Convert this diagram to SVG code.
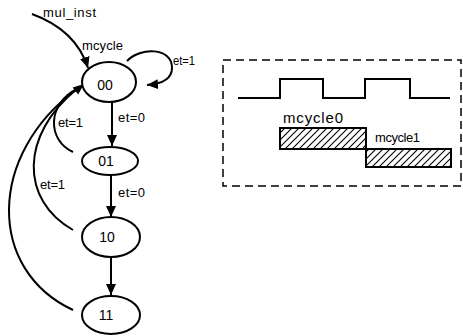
<svg xmlns="http://www.w3.org/2000/svg" width="463" height="336" viewBox="0 0 463 336">
<style>
  .lbl { font-family: "Liberation Sans", Arial, sans-serif; font-size: 13px; fill: #000; }
  .big { font-size: 15px; }
  .st { font-family: "Liberation Sans", Arial, sans-serif; font-size: 14px; fill: #000; text-anchor: middle; }
  .node { fill: #fff; stroke: #000; stroke-width: 2; }
  .edge { fill: none; stroke: #000; stroke-width: 2; }
  .arr { marker-end: url(#ah); }
</style>
<defs>
  <marker id="ah" markerUnits="userSpaceOnUse" markerWidth="12" markerHeight="10" refX="11" refY="5" orient="auto">
    <path d="M0,0 L11,5 L0,10 z" fill="#000"/>
  </marker>
  <pattern id="hatch" patternUnits="userSpaceOnUse" width="7" height="7">
    <path d="M-1,1 L1,-1 M0,7 L7,0 M6,8 L8,6" stroke="#000" stroke-width="1.1"/>
  </pattern>
</defs>
<rect width="463" height="336" fill="#fff"/>

<g id="connectors">
  <path class="edge arr" d="M32,14 Q76,30 88,68"/>
  <path class="edge arr" d="M127,61 C140,47 172,47 172,68 C172,80 160,84 147,85"/>
  <path class="edge arr" d="M112,102 L112,146"/>
  <path class="edge arr" d="M111,175 L111,217"/>
  <path class="edge arr" d="M111,257 L111,295"/>
  <path class="edge" d="M73,152 C47,140 47,104 77,89"/>
  <path class="edge" d="M73,230 C20,200 20,135 77,89"/>
  <path class="edge" d="M73,310 C-13,270 -13,155 77,89"/>
  <polygon points="84,84 78.2,94.4 72.6,87.4" fill="#000"/>
  <text class="lbl" x="43" y="17" textLength="53" lengthAdjust="spacing">mul_inst</text>
  <text class="lbl" x="82" y="50" textLength="41" lengthAdjust="spacing">mcycle</text>
  <text class="lbl" x="173" y="65" textLength="22" lengthAdjust="spacingAndGlyphs">et=1</text>
  <text class="lbl" x="118" y="122" textLength="27" lengthAdjust="spacing">et=0</text>
  <text class="lbl" x="58" y="127" textLength="25" lengthAdjust="spacing">et=1</text>
  <text class="lbl" x="118" y="197" textLength="27" lengthAdjust="spacing">et=0</text>
  <text class="lbl" x="40" y="189" textLength="25" lengthAdjust="spacing">et=1</text>
</g>

<g id="s00">
  <ellipse class="node" cx="109" cy="82" rx="27" ry="20"/>
  <text class="st" x="105" y="90">00</text>
</g>
<g id="s01">
  <ellipse class="node" cx="110" cy="161" rx="28" ry="14"/>
  <text class="st" x="106" y="166">01</text>
</g>
<g id="s10">
  <ellipse class="node" cx="111" cy="237" rx="29" ry="20"/>
  <text class="st" x="107" y="242">10</text>
</g>
<g id="s11">
  <ellipse class="node" cx="111" cy="315" rx="29" ry="19"/>
  <text class="st" x="106" y="320">11</text>
</g>

<g id="timing">
  <rect x="223" y="60" width="238" height="126" fill="none" stroke="#000" stroke-width="1.5" stroke-dasharray="8,5"/>
  <polyline points="238,98 280,98 280,79 323,79 323,98 365,98 365,79 410,79 410,98 450,98" fill="none" stroke="#000" stroke-width="2"/>
  <rect x="280" y="128" width="86" height="21" fill="url(#hatch)" stroke="#000" stroke-width="2"/>
  <rect x="366" y="149" width="85" height="18" fill="url(#hatch)" stroke="#000" stroke-width="2"/>
  <text class="lbl big" x="283" y="123" textLength="60" lengthAdjust="spacing">mcycle0</text>
  <text class="lbl" x="375" y="142" textLength="45" lengthAdjust="spacing">mcycle1</text>
</g>
</svg>
